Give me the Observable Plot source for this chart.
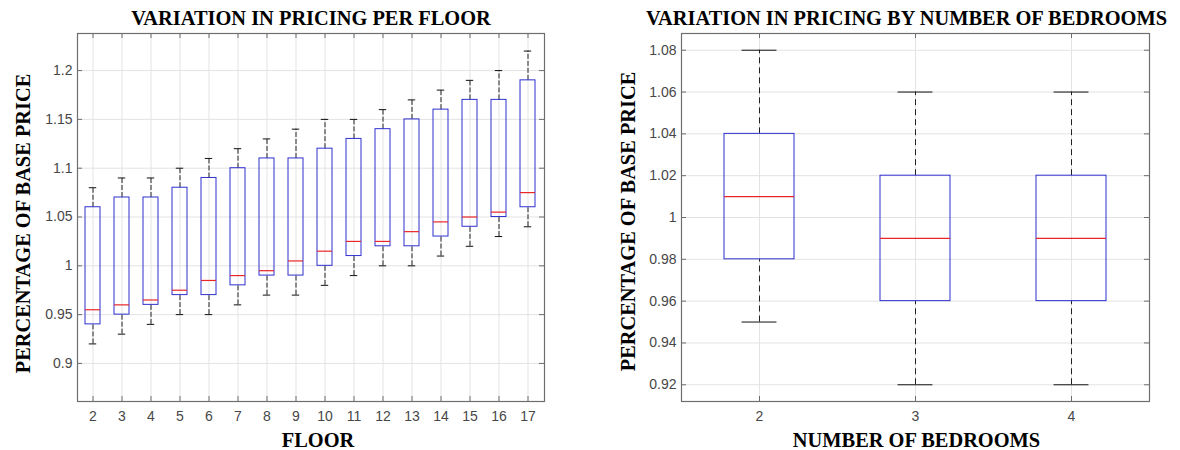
<!DOCTYPE html>
<html>
<head>
<meta charset="utf-8">
<script src="https://cdn.jsdelivr.net/npm/d3@7"></script>
<script src="https://cdn.jsdelivr.net/npm/@observablehq/plot@0.6"></script>
<style>
  html, body { margin: 0; padding: 0; background: #fff; }
  #wrap { display: flex; width: 1180px; height: 450px; overflow: hidden; }
  #wrap > * { flex: 0 0 auto; }
</style>
</head>
<body>
<div id="wrap"></div>
<script>
// ---- Left chart: pricing per floor ----
const floors   = [2, 3, 4, 5, 6, 7, 8, 9, 10, 11, 12, 13, 14, 15, 16, 17];
const floorLo  = [0.92, 0.93, 0.94, 0.95, 0.95, 0.96, 0.97, 0.97, 0.98, 0.99, 1.00, 1.00, 1.01, 1.02, 1.03, 1.04];
const floorQ1  = [0.94, 0.95, 0.96, 0.97, 0.97, 0.98, 0.99, 0.99, 1.00, 1.01, 1.02, 1.02, 1.03, 1.04, 1.05, 1.06];
const floorMed = [0.955, 0.96, 0.965, 0.975, 0.985, 0.99, 0.995, 1.005, 1.015, 1.025, 1.025, 1.035, 1.045, 1.05, 1.055, 1.075];
const floorQ3  = [1.06, 1.07, 1.07, 1.08, 1.09, 1.10, 1.11, 1.11, 1.12, 1.13, 1.14, 1.15, 1.16, 1.17, 1.17, 1.19];
const floorHi  = [1.08, 1.09, 1.09, 1.10, 1.11, 1.12, 1.13, 1.14, 1.15, 1.15, 1.16, 1.17, 1.18, 1.19, 1.20, 1.22];
const floorTicks = [0.9, 0.95, 1, 1.05, 1.1, 1.15, 1.2];

// ---- Right chart: pricing by number of bedrooms ----
const bedrooms = [2, 3, 4];
const bedLo  = [0.95, 0.92, 0.92];
const bedQ1  = [0.98, 0.96, 0.96];
const bedMed = [1.01, 0.99, 0.99];
const bedQ3  = [1.04, 1.02, 1.02];
const bedHi  = [1.08, 1.06, 1.06];
const bedTicks = [0.92, 0.94, 0.96, 0.98, 1, 1.02, 1.04, 1.06, 1.08];

// ---- Text ----
const titleLeft  = "VARIATION IN PRICING PER FLOOR";
const titleRight = "VARIATION IN PRICING BY NUMBER OF BEDROOMS";
const xLabelLeft  = "FLOOR";
const xLabelRight = "NUMBER OF BEDROOMS";
const yLabel = "PERCENTAGE OF BASE PRICE";

const serif = "'Liberation Serif', 'Times New Roman', 'DejaVu Serif', serif";
const sans = "'Liberation Sans', Arial, Helvetica, sans-serif";
const frameColor = "#6e6e6e";
const gridColor = "#e3e3e3";
const boxColor = "#2f2fd0";
const medColor = "#e8262a";

function boxChart(cfg) {
  const W = 590, H = 450, mt = 33, mb = 49;
  const frameW = W - cfg.ml - cfg.mr;
  const frameH = H - mt - mb;
  const pad = 1 - cfg.boxFrac;
  const bw = frameW / cfg.cats.length * cfg.boxFrac;
  const data = cfg.cats.map((c, i) => ({c, lo: cfg.lo[i], q1: cfg.q1[i], med: cfg.med[i], q3: cfg.q3[i], hi: cfg.hi[i]}));
  const fmt = d3.format("~g");
  const labelStyle = {fontFamily: serif, fontWeight: "bold", fontSize: 20.4, fill: "black", lineAnchor: "middle", textAnchor: "middle"};
  return Plot.plot({
    width: W, height: H,
    marginLeft: cfg.ml, marginRight: cfg.mr, marginTop: mt, marginBottom: mb,
    style: {fontFamily: sans, fontSize: "14px", color: "#474747", background: "white", overflow: "visible"},
    x: {type: "band", domain: cfg.cats, paddingInner: pad, paddingOuter: pad / 2, align: 0.5},
    y: {domain: cfg.yDomain},
    marks: [
      Plot.gridX(cfg.cats, {stroke: gridColor, strokeOpacity: 1}),
      Plot.gridY(cfg.yTicks, {stroke: gridColor, strokeOpacity: 1}),
      // whiskers
      Plot.ruleX(data, {x: "c", y1: "q3", y2: "hi", stroke: "#222", strokeDasharray: cfg.dash}),
      Plot.ruleX(data, {x: "c", y1: "lo", y2: "q1", stroke: "#222", strokeDasharray: cfg.dash}),
      Plot.tickY(data, {x: "c", y: "hi", stroke: "#111", inset: bw / 4}),
      Plot.tickY(data, {x: "c", y: "lo", stroke: "#111", inset: bw / 4}),
      // boxes
      Plot.barY(data, {x: "c", y1: "q1", y2: "q3", fill: "white", fillOpacity: 0, stroke: boxColor, strokeWidth: 1}),
      Plot.tickY(data, {x: "c", y: "med", stroke: medColor, strokeWidth: 1.2}),
      // frame and inward ticks
      Plot.frame({stroke: frameColor, strokeWidth: 1.2}),
      Plot.tickY(cfg.yTicks, {y: d => d, stroke: frameColor, insetRight: frameW - 5}),
      Plot.tickY(cfg.yTicks, {y: d => d, stroke: frameColor, insetLeft: frameW - 5}),
      Plot.tickX(cfg.cats, {x: d => d, stroke: frameColor, insetTop: frameH - 5}),
      Plot.tickX(cfg.cats, {x: d => d, stroke: frameColor, insetBottom: frameH - 5}),
      // axes labels
      Plot.axisY({ticks: cfg.yTicks, tickSize: 0, tickPadding: 5, tickFormat: fmt, label: null}),
      Plot.axisX({tickSize: 0, tickPadding: 10, label: null}),
      Plot.text([cfg.title], {text: d => d, frameAnchor: "top", dy: -15.5, dx: cfg.titleDx, ...labelStyle}),
      Plot.text([cfg.xLabel], {text: d => d, frameAnchor: "bottom", dy: 39, dx: cfg.xLabelDx, ...labelStyle}),
      Plot.text([yLabel], {text: d => d, frameAnchor: "left", rotate: -90, dx: cfg.yLabelDx, dy: cfg.yLabelDy, ...labelStyle})
    ]
  });
}

const left = boxChart({
  cats: floors, lo: floorLo, q1: floorQ1, med: floorMed, q3: floorQ3, hi: floorHi,
  yDomain: [0.861, 1.238], yTicks: floorTicks, boxFrac: 0.52, dash: "5,2",
  ml: 77, mr: 46, title: titleLeft, xLabel: xLabelLeft,
  titleDx: 0, xLabelDx: 7, yLabelDx: -54, yLabelDy: 6
});
const right = boxChart({
  cats: bedrooms, lo: bedLo, q1: bedQ1, med: bedMed, q3: bedQ3, hi: bedHi,
  yDomain: [0.912, 1.088], yTicks: bedTicks, boxFrac: 0.45, dash: "6,4",
  ml: 91, mr: 31, title: titleRight, xLabel: xLabelRight,
  titleDx: -9, xLabelDx: 1, yLabelDx: -53, yLabelDy: 4
});
document.getElementById("wrap").append(left, right);
</script>
</body>
</html>
